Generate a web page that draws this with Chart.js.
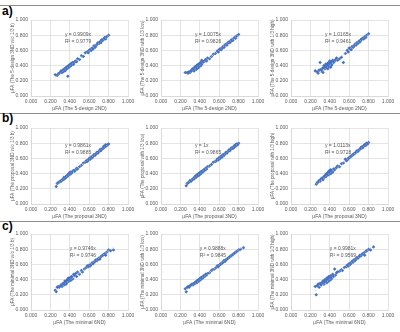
<!DOCTYPE html>
<html>
<head>
<meta charset="utf-8">
<script src="https://cdn.jsdelivr.net/npm/chart.js@4/dist/chart.umd.min.js"></script>
<style>
  body { margin: 0; background: #fff; }
  #wrap { position: relative; width: 400px; height: 332px; overflow: hidden; font-family: "Liberation Sans", Arial, sans-serif; }
  canvas { position: absolute; }
  .rule { position: absolute; left: 0; width: 400px; height: 1px; background: #8c8c8c; }
  .tag { position: absolute; left: 2px; font-weight: bold; font-size: 12px; line-height: 12px; color: #000; }
</style>
</head>
<body>
<div id="wrap">
  <div class="rule" style="top:5px"></div>
  <div class="rule" style="top:113px"></div>
  <div class="rule" style="top:221px"></div>
  <div class="tag" style="top:5px">a)</div>
  <div class="tag" style="top:112px">b)</div>
  <div class="tag" style="top:220px">c)</div>
</div>
<script>
// row a: x = 5-design 2ND
const xA = [0.25,0.27,0.28,0.29,0.30,0.31,0.32,0.33,0.33,0.34,0.35,0.35,0.36,0.36,0.37,0.37,0.38,0.38,0.38,0.39,0.39,0.40,0.40,0.41,0.41,0.42,0.42,0.43,0.44,0.45,0.46,0.47,0.48,0.50,0.52,0.54,0.56,0.58,0.59,0.60,0.61,0.62,0.63,0.64,0.65,0.66,0.67,0.68,0.69,0.70,0.71,0.72,0.72,0.73,0.74,0.75,0.76,0.77,0.78,0.80];
const yA1 = [0.28,0.27,0.29,0.30,0.31,0.33,0.31,0.34,0.32,0.35,0.33,0.36,0.37,0.35,0.38,0.36,0.26,0.39,0.37,0.40,0.38,0.41,0.39,0.40,0.42,0.43,0.41,0.44,0.42,0.45,0.46,0.45,0.49,0.48,0.53,0.52,0.57,0.58,0.57,0.60,0.61,0.60,0.63,0.62,0.66,0.64,0.66,0.68,0.70,0.69,0.71,0.70,0.72,0.74,0.73,0.75,0.77,0.75,0.78,0.80];
const yA2 = [0.31,0.31,0.30,0.32,0.31,0.33,0.35,0.34,0.36,0.33,0.37,0.38,0.35,0.39,0.36,0.40,0.37,0.39,0.41,0.38,0.42,0.40,0.43,0.40,0.44,0.42,0.47,0.44,0.45,0.46,0.48,0.46,0.50,0.49,0.52,0.55,0.56,0.59,0.58,0.61,0.62,0.61,0.63,0.65,0.64,0.67,0.68,0.67,0.70,0.71,0.70,0.73,0.72,0.74,0.73,0.76,0.77,0.76,0.79,0.81];
const yA3 = [0.33,0.32,0.30,0.34,0.44,0.35,0.33,0.37,0.31,0.40,0.36,0.38,0.42,0.37,0.41,0.39,0.43,0.36,0.40,0.44,0.39,0.42,0.46,0.38,0.43,0.45,0.41,0.47,0.44,0.46,0.48,0.50,0.47,0.49,0.51,0.44,0.56,0.60,0.58,0.63,0.62,0.61,0.65,0.64,0.66,0.68,0.67,0.70,0.69,0.72,0.71,0.74,0.73,0.75,0.76,0.75,0.78,0.77,0.80,0.82];

// row b: x = proposal 3ND
const xB = [0.26,0.27,0.28,0.29,0.30,0.31,0.32,0.33,0.34,0.34,0.35,0.36,0.36,0.37,0.38,0.38,0.39,0.39,0.40,0.40,0.41,0.41,0.42,0.43,0.44,0.45,0.46,0.47,0.48,0.50,0.52,0.54,0.56,0.57,0.58,0.59,0.60,0.61,0.62,0.63,0.64,0.65,0.66,0.67,0.68,0.69,0.70,0.71,0.72,0.72,0.73,0.74,0.75,0.75,0.76,0.77,0.77,0.78,0.79,0.80];
const yB1 = [0.23,0.27,0.28,0.29,0.30,0.30,0.32,0.32,0.33,0.35,0.34,0.36,0.35,0.37,0.38,0.37,0.39,0.40,0.39,0.41,0.40,0.42,0.41,0.43,0.44,0.43,0.45,0.47,0.46,0.49,0.51,0.54,0.55,0.57,0.56,0.58,0.60,0.59,0.62,0.61,0.63,0.65,0.64,0.66,0.68,0.67,0.69,0.71,0.70,0.72,0.72,0.73,0.74,0.76,0.75,0.76,0.78,0.77,0.78,0.79];
const yB2 = [0.24,0.27,0.28,0.29,0.31,0.30,0.32,0.33,0.34,0.33,0.36,0.35,0.37,0.38,0.37,0.39,0.40,0.38,0.41,0.39,0.42,0.40,0.43,0.42,0.45,0.44,0.47,0.46,0.49,0.50,0.52,0.55,0.56,0.57,0.59,0.58,0.61,0.60,0.63,0.62,0.65,0.64,0.66,0.68,0.67,0.69,0.71,0.70,0.72,0.73,0.74,0.73,0.76,0.74,0.77,0.76,0.78,0.79,0.78,0.80];
const yB3 = [0.26,0.28,0.29,0.31,0.30,0.33,0.34,0.32,0.36,0.35,0.37,0.39,0.36,0.40,0.38,0.41,0.43,0.39,0.42,0.44,0.40,0.45,0.43,0.42,0.46,0.45,0.47,0.48,0.50,0.49,0.53,0.54,0.59,0.57,0.58,0.60,0.61,0.62,0.63,0.64,0.65,0.66,0.67,0.68,0.70,0.69,0.71,0.72,0.73,0.74,0.75,0.74,0.77,0.76,0.78,0.77,0.79,0.80,0.79,0.81];

// row c: x = minimal 6ND
const xC = [0.25,0.26,0.27,0.28,0.29,0.30,0.31,0.32,0.33,0.34,0.35,0.35,0.36,0.37,0.37,0.38,0.39,0.39,0.40,0.41,0.41,0.42,0.43,0.44,0.45,0.46,0.47,0.48,0.50,0.52,0.53,0.55,0.57,0.58,0.59,0.60,0.61,0.62,0.63,0.64,0.65,0.66,0.67,0.68,0.69,0.70,0.71,0.72,0.73,0.74,0.75,0.76,0.77,0.78,0.80,0.82,0.85];
const yC1 = [0.26,0.24,0.30,0.31,0.30,0.31,0.33,0.31,0.35,0.33,0.36,0.38,0.34,0.39,0.36,0.41,0.38,0.42,0.40,0.43,0.39,0.44,0.41,0.47,0.45,0.48,0.44,0.50,0.47,0.52,0.50,0.54,0.56,0.58,0.57,0.59,0.58,0.60,0.62,0.61,0.63,0.64,0.66,0.65,0.67,0.68,0.67,0.70,0.71,0.72,0.73,0.74,0.72,0.76,0.79,0.78,0.79];
const yC2 = [0.28,0.24,0.30,0.31,0.30,0.32,0.33,0.34,0.33,0.35,0.36,0.35,0.37,0.36,0.38,0.39,0.38,0.40,0.41,0.40,0.42,0.43,0.42,0.45,0.44,0.47,0.46,0.48,0.49,0.52,0.53,0.54,0.56,0.58,0.57,0.59,0.60,0.61,0.62,0.63,0.65,0.64,0.66,0.67,0.68,0.69,0.70,0.71,0.72,0.73,0.74,0.75,0.76,0.77,0.79,0.80,0.82];
const yC3 = [0.31,0.20,0.32,0.34,0.30,0.35,0.33,0.36,0.38,0.34,0.40,0.37,0.39,0.42,0.36,0.41,0.44,0.38,0.43,0.40,0.45,0.42,0.47,0.44,0.54,0.46,0.49,0.50,0.51,0.53,0.52,0.56,0.57,0.59,0.58,0.61,0.60,0.62,0.64,0.63,0.66,0.65,0.67,0.69,0.68,0.70,0.72,0.71,0.73,0.74,0.75,0.72,0.77,0.78,0.80,0.79,0.83];

// trendline slopes and labels
const slopes = [0.9909, 1.0075, 1.0165, 0.9861, 1, 1.0113, 0.9746, 0.9888, 0.9981];
const eqLines = ["y = 0.9909x", "y = 1.0075x", "y = 1.0165x", "y = 0.9861x", "y = 1x", "y = 1.0113x", "y = 0.9746x", "y = 0.9888x", "y = 0.9981x"];
const r2Lines = ["R² = 0.9779", "R² = 0.9826", "R² = 0.9461", "R² = 0.9885", "R² = 0.9865", "R² = 0.9728", "R² = 0.9746", "R² = 0.9845", "R² = 0.9569"];

const xTitles = ["μFA (The 5-design 2ND)", "μFA (The proposal 3ND)", "μFA (The minimal 6ND)"];
const yTitles = [
  "μFA (The 5-design 3ND w/o 1/3 b)", "μFA (The 5-design 3ND with 1/3 low)", "μFA (The 5-design 3ND with 1/3 high)",
  "μFA (The proposal 3ND w/o 1/3 b)", "μFA (The proposal with 1/3 low)", "μFA (The proposal with 1/3 high)",
  "μFA (The minimal 3ND w/o 1/3 b)", "μFA (The minimal 3ND with 1/3 low)", "μFA (The minimal 3ND with 1/3 high)"
];

const xRows = [xA, xB, xC];
const yPanels = [yA1, yA2, yA3, yB1, yB2, yB3, yC1, yC2, yC3];
const rowTops = [14, 122, 228];
const eqPos = [[0.35, 0.81, 0.71], [0.35, 0.77, 0.68], [0.40, 0.81, 0.72]];

const BLUE = '#4472c4';
const TXT = '#595959';

const eqnPlugin = {
  id: 'eqn',
  afterDatasetsDraw(chart, args, opts) {
    const { ctx, scales } = chart;
    ctx.save();
    ctx.fillStyle = TXT;
    ctx.font = '5px "Liberation Sans", Arial, sans-serif';
    ctx.textBaseline = 'middle';
    ctx.textAlign = 'left';
    const px = scales.x.getPixelForValue(opts.x);
    ctx.fillText(opts.eq, px, scales.y.getPixelForValue(opts.y1));
    ctx.fillText(opts.r2, px, scales.y.getPixelForValue(opts.y2));
    ctx.restore();
  }
};

const wrap = document.getElementById('wrap');

for (let i = 0; i < 9; i++) {
  const row = Math.floor(i / 3), col = i % 3;
  const xs = xRows[row], ys = yPanels[i];
  const pts = xs.map((x, k) => ({ x: x, y: ys[k] }));
  const xMin = Math.min(...xs), xMax = Math.max(...xs);

  const cv = document.createElement('canvas');
  cv.width = 138; cv.height = 98;
  cv.style.left = (col * 130) + 'px';
  cv.style.top = rowTops[row] + 'px';
  wrap.appendChild(cv);

  new Chart(cv, {
    type: 'scatter',
    data: {
      datasets: [
        {
          type: 'line',
          data: [{ x: xMin, y: xMin * slopes[i] }, { x: xMax, y: xMax * slopes[i] }],
          borderColor: '#bfbfbf',
          borderWidth: 0.7,
          borderDash: [1.5, 1.5],
          pointRadius: 0,
          fill: false
        },
        {
          data: pts,
          pointStyle: 'rectRot',
          pointRadius: 1.8,
          backgroundColor: BLUE,
          borderColor: BLUE,
          borderWidth: 0
        }
      ]
    },
    options: {
      responsive: false,
      animation: false,
      layout: { padding: { top: 6, right: 10, left: 0, bottom: 0 } },
      plugins: {
        legend: { display: false },
        tooltip: { enabled: false },
        eqn: { x: eqPos[row][0], y1: eqPos[row][1], y2: eqPos[row][2], eq: eqLines[i], r2: r2Lines[i] }
      },
      scales: {
        x: {
          type: 'linear', min: 0, max: 1,
          ticks: { stepSize: 0.2, padding: 3, color: TXT, font: { size: 5 }, maxRotation: 0,
                   callback: v => v.toFixed(3) },
          grid: { color: '#d9d9d9', drawTicks: false, lineWidth: 0.7 },
          border: { color: '#d9d9d9' },
          title: { display: true, text: xTitles[row], color: TXT, font: { size: 5 }, padding: 0 },
          afterFit: s => { s.height = 16; }
        },
        y: {
          type: 'linear', min: 0, max: 1,
          ticks: { stepSize: 0.1, padding: 3, color: TXT, font: { size: 5 },
                   callback: v => v.toFixed(3) },
          grid: { color: '#d9d9d9', drawTicks: false, lineWidth: 0.7 },
          border: { color: '#d9d9d9' },
          title: { display: true, text: yTitles[i], color: TXT, font: { size: 4.6 }, padding: { top: 10, bottom: 0 } },
          afterFit: s => { s.width = 31; }
        }
      }
    },
    plugins: [eqnPlugin]
  });
}
</script>
</body>
</html>
